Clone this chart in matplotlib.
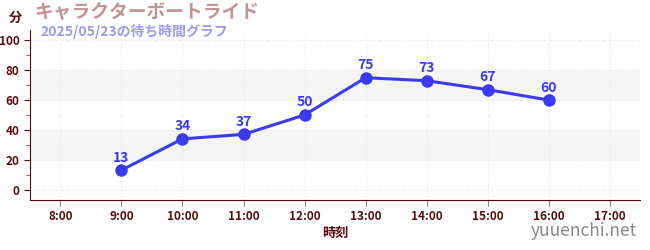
import matplotlib.pyplot as plt
from matplotlib.ticker import MultipleLocator

plt.rcParams['font.family'] = ['Noto Sans CJK JP', 'DejaVu Sans']

hours = [9, 10, 11, 12, 13, 14, 15, 16]
waits = [13, 34, 37, 50, 75, 73, 67, 60]
tick_hours = [8, 9, 10, 11, 12, 13, 14, 15, 16, 17]
tick_labels = [f'{h}:00' for h in tick_hours]

dark = '#5a0a0a'
blue = '#3a3af0'

fig = plt.figure(figsize=(6.5, 2.5), dpi=100)
ax = fig.add_axes([0.046, 0.2, 0.939, 0.68])

for lo, hi in [(20, 40), (60, 80)]:
    ax.axhspan(lo, hi, color='#f5f5f5', zorder=0)

ax.plot(hours, waits, color=blue, lw=2.2, marker='o', ms=8, zorder=3)
for h, w in zip(hours, waits):
    ax.annotate(str(w), (h, w), xytext=(0, 4), textcoords='offset points',
                ha='center', va='bottom', color=blue, fontsize=10, fontweight='bold')

ax.set_xlim(7.5, 17.5)
ax.set_ylim(-7, 107)
ax.set_xticks(tick_hours)
ax.set_xticklabels(tick_labels)
ax.yaxis.set_major_locator(MultipleLocator(20))
ax.yaxis.set_minor_locator(MultipleLocator(10))
ax.tick_params(axis='both', colors=dark, labelsize=8.5, length=4)
ax.tick_params(axis='x', color='#888888')
ax.tick_params(axis='y', which='minor', color='#dd2222', length=3)
for lbl in ax.get_xticklabels() + ax.get_yticklabels():
    lbl.set_fontweight('bold')
ax.grid(True, which='major', color='#efefef', ls='--', lw=0.8, zorder=0)

for s in ['top', 'right']:
    ax.spines[s].set_visible(False)
for s in ['left', 'bottom']:
    ax.spines[s].set_color(dark)

ax.set_xlabel('時刻', color=dark, fontsize=9.5, fontweight='bold', labelpad=2)

fig.text(0.013, 0.93, '分', color=dark, fontsize=9.5, fontweight='bold', va='center')
fig.text(0.053, 0.95, 'キャラクターボートライド', color='#c49494', fontsize=13.5,
         fontweight='bold', va='center')
fig.text(0.062, 0.875, '2025/05/23の待ち時間グラフ', color='#9a9af0', fontsize=10,
         fontweight='bold', va='center')
fig.text(0.98, 0.075, 'yuuenchi.net', color='#888888', fontsize=12.5, ha='right', va='center')

fig.savefig('out.png', dpi=100)
